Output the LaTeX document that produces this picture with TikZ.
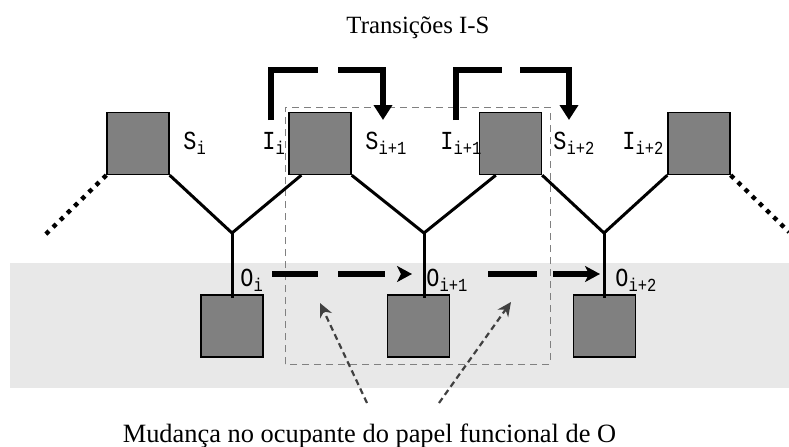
\documentclass[tikz,border=0pt]{standalone}
\usepackage{fontspec}
\setmainfont{Liberation Serif}
\newfontfamily\lblfont{Liberation Mono}
\usetikzlibrary{calc,arrows.meta,positioning}

% letter with a lowered index, as used for the role labels
\newcommand{\rolelbl}[2]{\scalebox{0.84}[1]{#1\raisebox{-0.4ex}{\fontsize{9.2}{10}\selectfont #2}}}

\begin{document}
\begin{tikzpicture}[x=0.5pt,y=0.5pt,font=\fontsize{12.4}{15}\selectfont]

\tikzset{sq/.style={shape=rectangle,draw=black,line width=0.7pt,fill=black!50,minimum size=31pt,inner sep=0pt},
rolenode/.style={font=\lblfont\fontsize{13}{14}\selectfont,inner sep=0pt,anchor=base west},
bond/.style={line width=1.5pt},
chain/.style={line width=2.2pt,dash pattern=on 2.2pt off 2.8pt},
trans/.style={line width=3pt,-{Triangle[width=9pt,length=7.5pt]}},
oshift/.style={line width=2.8pt,-{Stealth[width=8pt,length=7.5pt,inset=2pt]}},
hint/.style={line width=1.1pt,color=black!75,dash pattern=on 3pt off 2pt,-{Stealth[width=6.5pt,length=7pt]}},
window/.style={draw=black!50,line width=0.5pt,dash pattern=on 3.5pt off 2.5pt}}

\useasboundingbox (0,0) rectangle (789,446);

% Band of the O roles
\fill[black!9] (10,58) rectangle (789,183);

% Window over the moving part
\draw[window] (285,82) rectangle (550,339);

% Top squares
\node[sq] (t1) at (138,302.5) {};
\node[sq] (t2) at (320,302.5) {};
\node[sq] (t3) at (510.5,302.5) {};
\node[sq] (t4) at (699,302.5) {};

% Bottom squares
\node[sq] (b1) at (232,120) {};
\node[sq] (b2) at (418.5,120) {};
\node[sq] (b3) at (604.5,120) {};

% Junctions and chain ends
\coordinate (j1) at (232,213);
\coordinate (j2) at (424,213);
\coordinate (j3) at (604,213);
\coordinate (endL) at (45,211);
\coordinate (endR) at (789,214);

% Bonds
\draw[bond] (t1.south east) -- (j1) -- ($(t2.south west)+(13,0)$);
\draw[bond] (t2.south east) -- (j2) -- ($(t3.south west)+(17,0)$);
\draw[bond] (t3.south east) -- (j3) -- (t4.south west);
\draw[bond] (j1) -- ($(j1 |- b1.north)+(0,-4)$);
\draw[bond] (j2) -- ($(j2 |- b2.north)+(0,-4)$);
\draw[bond] (j3) -- ($(j3 |- b3.north)+(0,-4)$);
\draw[chain] (t1.south west) -- (endL);
\draw[chain] (t4.south east) -- (endR);

% Role labels
\node[rolenode] (s1) at (183,297) {\rolelbl{S}{i}};
\node[rolenode] (i1) at (262,297) {\rolelbl{I}{i}};
\node[rolenode] (s2) at (365,297) {\rolelbl{S}{i+1}};
\node[rolenode] (i2) at (440,297) {\rolelbl{I}{i+1}};
\node[rolenode] (s3) at (553,297) {\rolelbl{S}{i+2}};
\node[rolenode] (i3) at (622,297) {\rolelbl{I}{i+2}};
\node[rolenode] (o1) at (240,160) {\rolelbl{O}{i}};
\node[rolenode] (o2) at (426,160) {\rolelbl{O}{i+1}};
\node[rolenode] (o3) at (615,160) {\rolelbl{O}{i+2}};

% I-S transitions
\coordinate (a1) at (271,326); \coordinate (a1e) at (383,326);
\coordinate (a2) at (456,326); \coordinate (a2e) at (569,326);
\draw[trans,dash pattern=on 48.5pt off 10pt on 200pt] (a1) -- ++(0,50) -| (a1e);
\draw[trans,dash pattern=on 48pt off 9pt on 200pt] (a2) -- ++(0,50) -| (a2e);

% O shifts
\coordinate (c1) at (272,172); \coordinate (c1e) at (412,172);
\coordinate (c2) at (488,172); \coordinate (c2e) at (600,172);
\draw[oshift,dash pattern=on 23pt off 10pt on 23.5pt off 20pt] (c1) -- (c1e);
\draw[oshift,dash pattern=on 24.5pt off 8pt on 100pt] (c2) -- (c2e);

% Titles
\node[anchor=base] (title) at (418,413) {Transições I-S};
\node[anchor=base,font=\fontsize{13.2}{15}\selectfont] (note) at (369.5,4) {Mudança no ocupante do papel funcional de O};

% Pointers from the note
\coordinate (p1) at (367,43); \coordinate (p2) at (439,43);
\draw[hint] (p1) -- (320,143);
\draw[hint] (p2) -- (511,144);

\end{tikzpicture}
\end{document}
